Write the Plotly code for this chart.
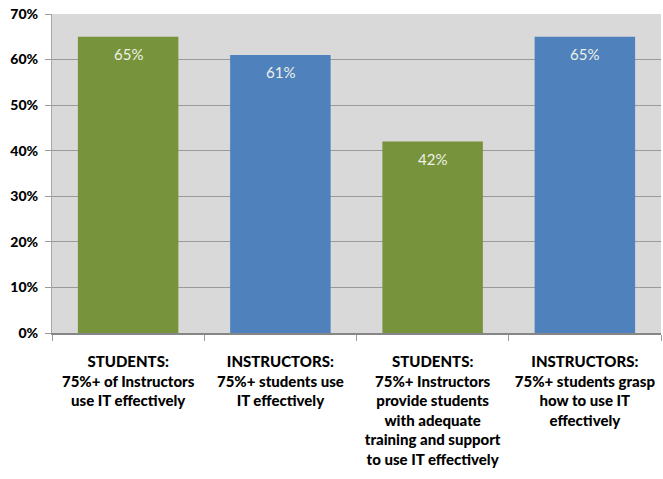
import plotly.graph_objects as go

categories = [
    "STUDENTS:<br>75%+ of Instructors<br>use IT effectively",
    "INSTRUCTORS:<br>75%+ students use<br>IT effectively",
    "STUDENTS:<br>75%+ Instructors<br>provide students<br>with adequate<br>training and support<br>to use IT effectively",
    "INSTRUCTORS:<br>75%+ students grasp<br>how to use IT<br>effectively",
]
values = [0.65, 0.61, 0.42, 0.65]
bar_colors = ["#77933c", "#4f81bd", "#77933c", "#4f81bd"]
value_labels = ["65%", "61%", "42%", "65%"]

fig = go.Figure()
fig.add_trace(go.Bar(
    x=categories,
    y=values,
    marker=dict(color=bar_colors, line=dict(width=0)),
    width=0.66,
    hoverinfo="skip",
))

# value labels sit just inside the top of each bar
for cat, val, lab in zip(categories, values, value_labels):
    fig.add_annotation(
        x=cat, y=val, text=lab, showarrow=False,
        yshift=-17,
        font=dict(family="Lato", size=15, color="#eef2e6", weight=400),
    )

fig.update_layout(
    width=663, height=479,
    margin=dict(l=52, r=2, t=14, b=146),
    paper_bgcolor="white",
    plot_bgcolor="#d9d9d9",
    showlegend=False,
    font=dict(family="Lato", size=14, color="black"),
)
fig.update_yaxes(
    range=[0, 0.7], dtick=0.1, tickformat=".0%",
    showgrid=True, gridcolor="#9a9a9a", gridwidth=1,
    ticks="outside", ticklen=6, tickcolor="#9a9a9a",
    ticklabelstandoff=4,
    showline=True, linecolor="#a6a6a6", linewidth=1,
    zeroline=False,
    tickfont=dict(family="Lato", size=14, color="black", weight=900),
)
fig.update_xaxes(
    showline=True, linecolor="#868686", linewidth=2,
    ticks="outside", ticklen=6, tickcolor="#9a9a9a", tickson="boundaries",
    tickangle=0, ticklabelstandoff=14,
    tickfont=dict(family="Lato", size=15, color="black", weight=900),
)

fig.write_html("out.html")
